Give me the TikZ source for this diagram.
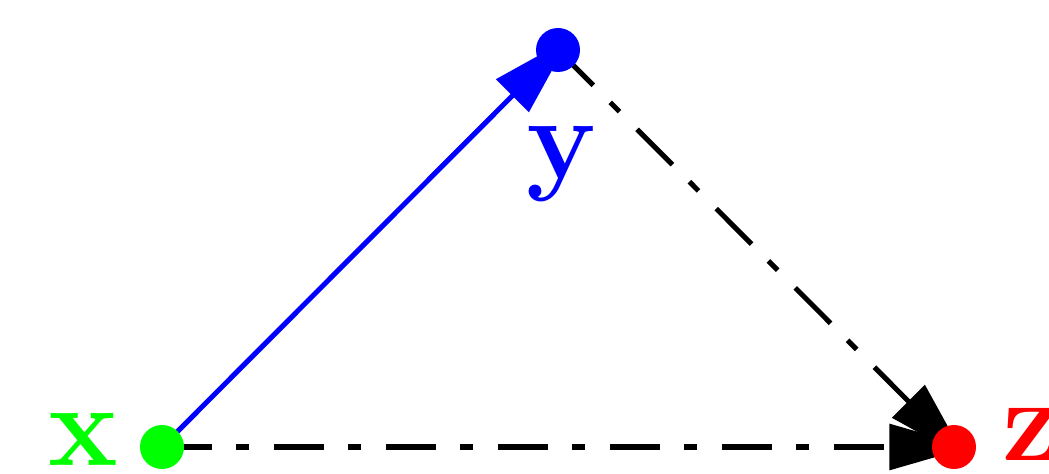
\documentclass[tikz,border=0pt]{standalone}
\usetikzlibrary{arrows.meta,backgrounds}
\definecolor{pgreen}{RGB}{0,255,0}
\definecolor{pblue}{RGB}{0,0,255}
\definecolor{pred}{RGB}{255,0,0}
\begin{document}
\begin{tikzpicture}[x=0.75pt,y=-0.75pt,
  dot/.style={circle,fill=#1,inner sep=0pt,minimum size=33pt},
  lbl/.style={text=#1,inner sep=0pt,font=\fontsize{88}{88}\selectfont\bfseries},
  conn/.style={line width=3.8pt,shorten >=-12.5pt,-{Triangle[length=61pt,width=34pt]}},
  dashdot/.style={dash pattern=on 37.5pt off 18pt on 9.75pt off 18.75pt}]
\useasboundingbox (0,0) rectangle (1049,474);
\node[dot=pgreen] (x) at (162,447) {};
\node[dot=pblue] (y) at (558,50) {};
\node[dot=pred] (z) at (954,447) {};
\node[lbl=pgreen,anchor=base] (lx) at (83,465) {x};
\node[lbl=pblue,anchor=base] (ly) at (561,179) {y};
\node[lbl=pred,anchor=base west] (lz) at (1002,460) {z};
\begin{scope}[on background layer]
\draw[conn,pblue] (x.center) -- (y.center);
\draw[conn,black,dashdot] (y.center) -- (z.center);
\draw[conn,black,dashdot] (x.center) -- (z.center);
\end{scope}
\end{tikzpicture}
\end{document}
